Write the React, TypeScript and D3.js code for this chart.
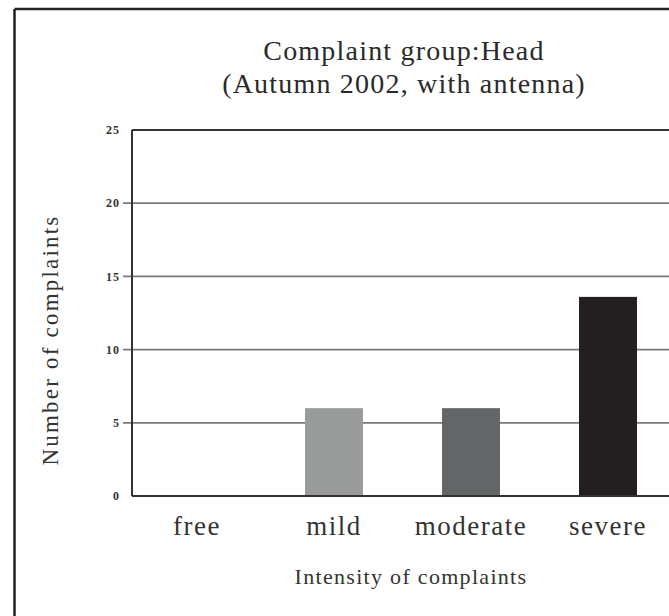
import React from "react";
import * as d3 from "d3";

const categories = ["free", "mild", "moderate", "severe"];
const values = [0, 6, 6, 13.6];
const barColors = ["#ffffff", "#9a9c9c", "#636666", "#231f20"];
const yTicks = [0, 5, 10, 15, 20, 25];
const titleLines = ["Complaint group:Head", "(Autumn 2002, with antenna)"];
const xTitle = "Intensity of complaints";
const yTitle = "Number of complaints";

const W = 669;
const H = 616;
const plotLeft = 132;
const plotRight = 669;
const plotTop = 130;
const plotBottom = 496;

export default function App() {
  const y = d3.scaleLinear().domain([0, 25]).range([plotBottom, plotTop]);
  const x = d3
    .scaleBand<string>()
    .domain(categories)
    .range([128.5, 676.5])
    .paddingInner(0.577)
    .paddingOuter(0.2885);
  const font = "'Liberation Serif', 'Times New Roman', serif";
  return (
    <svg
      width={W}
      height={H}
      style={{ position: "absolute", left: 0, top: 0, background: "#fff" }}
    >
      <rect x={0} y={0} width={W} height={H} fill="#fff" />
      {/* outer frame */}
      <line x1={14.5} x2={W} y1={9} y2={9} stroke="#222" strokeWidth={2.5} />
      <line x1={14.5} x2={14.5} y1={9} y2={H} stroke="#222" strokeWidth={2.5} />

      {/* title */}
      {titleLines.map((t, i) => (
        <text
          key={t}
          x={404}
          y={60 + i * 33}
          textAnchor="middle"
          fontFamily={font}
          fontSize={28}
          letterSpacing={1.2}
          fill="#2a2a2a"
        >
          {t}
        </text>
      ))}

      {/* grid lines */}
      {yTicks
        .filter((t) => t > 0 && t < 25)
        .map((t) => (
          <line
            key={t}
            x1={plotLeft - 9}
            x2={plotRight}
            y1={y(t)}
            y2={y(t)}
            stroke="#7a7a7a"
            strokeWidth={1.8}
          />
        ))}
      <line
        x1={plotLeft}
        x2={plotRight}
        y1={y(25)}
        y2={y(25)}
        stroke="#333"
        strokeWidth={2}
      />

      {/* bars */}
      {categories.map((c, i) => (
        <rect
          key={c}
          x={x(c)}
          y={y(values[i])}
          width={x.bandwidth()}
          height={y(0) - y(values[i])}
          fill={barColors[i]}
        />
      ))}

      {/* axes */}
      <line
        x1={plotLeft}
        x2={plotLeft}
        y1={y(25)}
        y2={y(0)}
        stroke="#333"
        strokeWidth={2}
      />
      <line
        x1={plotLeft}
        x2={plotRight}
        y1={y(0)}
        y2={y(0)}
        stroke="#333"
        strokeWidth={2}
      />

      {/* y tick labels */}
      {yTicks.map((t) => (
        <text
          key={t}
          x={120}
          y={y(t)}
          dy="0.35em"
          textAnchor="end"
          fontFamily={font}
          fontSize={12}
          fontWeight="bold"
          letterSpacing={1}
          fill="#333"
        >
          {t}
        </text>
      ))}

      {/* x category labels */}
      {categories.map((c) => (
        <text
          key={c}
          x={(x(c) as number) + x.bandwidth() / 2}
          y={535}
          textAnchor="middle"
          fontFamily={font}
          fontSize={27}
          letterSpacing={1.5}
          fill="#333"
        >
          {c}
        </text>
      ))}

      {/* axis titles */}
      <text
        x={411}
        y={584}
        textAnchor="middle"
        fontFamily={font}
        fontSize={22}
        letterSpacing={1.3}
        fill="#333"
      >
        {xTitle}
      </text>
      <text
        transform={`translate(58, 340) rotate(-90)`}
        textAnchor="middle"
        fontFamily={font}
        fontSize={23}
        letterSpacing={2.2}
        fill="#333"
      >
        {yTitle}
      </text>
    </svg>
  );
}
